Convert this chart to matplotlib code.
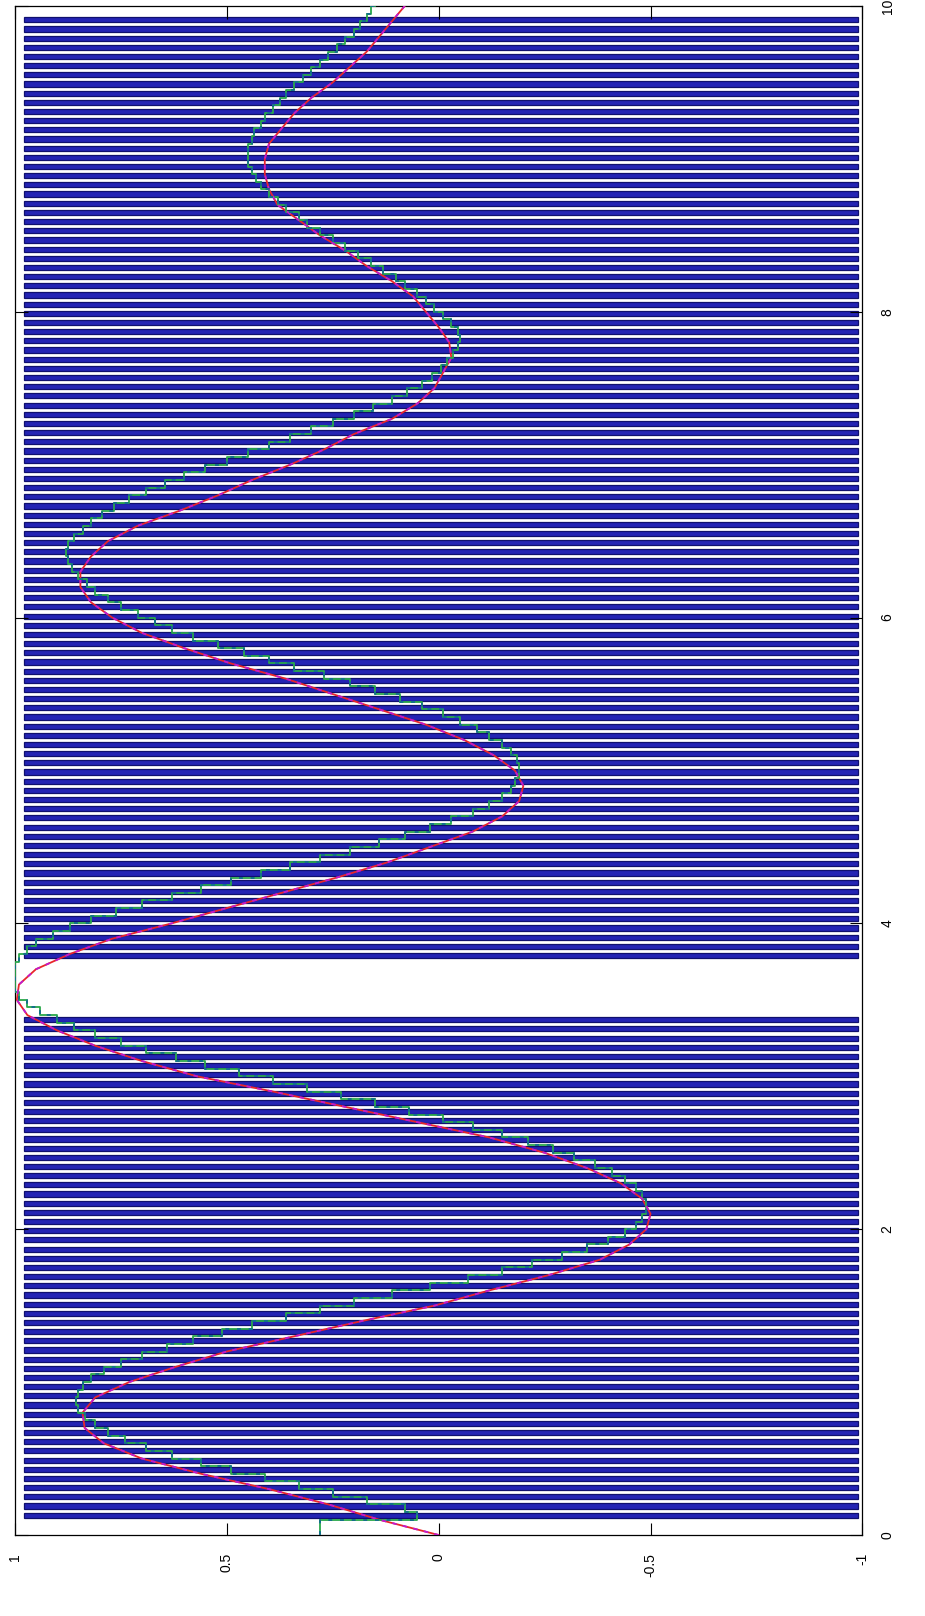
import numpy as np
import matplotlib
matplotlib.use("Agg")
import matplotlib.pyplot as plt

# time grid of the smooth reference response (s)
t_ref = np.round(np.arange(0.0, 10.0001, 0.1), 2)

# reference response (smooth)
reference = [
    0.00, 0.14, 0.26, 0.40, 0.56, 0.70, 0.79, 0.835, 0.84, 0.81,
    0.73, 0.62, 0.50, 0.34, 0.18, 0.01, -0.12, -0.26, -0.38, -0.45,
    -0.49, -0.50, -0.48, -0.43, -0.35, -0.25, -0.12, 0.05, 0.22, 0.39,
    0.57, 0.70, 0.81, 0.90, 0.97, 0.995, 0.99, 0.95, 0.87, 0.77,
    0.63, 0.50, 0.37, 0.24, 0.12, 0.02, -0.08, -0.15, -0.19, -0.20,
    -0.18, -0.13, -0.06, 0.03, 0.14, 0.25, 0.36, 0.49, 0.60, 0.70,
    0.77, 0.82, 0.845, 0.845, 0.82, 0.78, 0.71, 0.61, 0.52, 0.44,
    0.35, 0.27, 0.20, 0.11, 0.05, 0.01, -0.01, -0.03, -0.025, 0.00,
    0.03, 0.06, 0.11, 0.17, 0.22, 0.28, 0.33, 0.38, 0.40, 0.41,
    0.41, 0.40, 0.37, 0.34, 0.30, 0.25, 0.21, 0.17, 0.14, 0.11,
    0.08,
]

# sample instants of the held estimate (s)
t_est = np.round(np.arange(0.0, 10.0001, 0.05), 2)

# sampled (held) estimate
estimate = [
    0.28, 0.28, 0.05, 0.08, 0.17, 0.25, 0.33, 0.41, 0.49, 0.56,
    0.63, 0.69, 0.74, 0.78, 0.81, 0.835, 0.85, 0.855, 0.85, 0.84,
    0.82, 0.79, 0.75, 0.70, 0.64, 0.58, 0.51, 0.44, 0.36, 0.28,
    0.20, 0.11, 0.02, -0.07, -0.15, -0.22, -0.29, -0.35, -0.40, -0.44,
    -0.465, -0.48, -0.49, -0.49, -0.48, -0.465, -0.44, -0.41, -0.37, -0.32,
    -0.27, -0.21, -0.15, -0.08, -0.01, 0.07, 0.15, 0.23, 0.31, 0.39,
    0.47, 0.55, 0.62, 0.69, 0.75, 0.81, 0.86, 0.90, 0.94, 0.97,
    0.99, 1.00, 1.00, 1.00, 1.00, 0.99, 0.97, 0.95, 0.91, 0.87,
    0.82, 0.76, 0.70, 0.63, 0.56, 0.49, 0.42, 0.35, 0.28, 0.21,
    0.14, 0.08, 0.02, -0.03, -0.08, -0.12, -0.15, -0.17, -0.18, -0.19,
    -0.19, -0.185, -0.17, -0.15, -0.12, -0.09, -0.05, -0.01, 0.04, 0.09,
    0.15, 0.21, 0.27, 0.34, 0.40, 0.46, 0.52, 0.58, 0.63, 0.67,
    0.71, 0.75, 0.78, 0.81, 0.83, 0.85, 0.865, 0.875, 0.88, 0.875,
    0.86, 0.84, 0.82, 0.795, 0.765, 0.73, 0.69, 0.645, 0.60, 0.55,
    0.50, 0.45, 0.40, 0.35, 0.30, 0.25, 0.20, 0.155, 0.11, 0.075,
    0.04, 0.015, -0.005, -0.02, -0.035, -0.045, -0.05, -0.045, -0.03, -0.01,
    0.01, 0.03, 0.05, 0.08, 0.10, 0.13, 0.16, 0.19, 0.22, 0.25,
    0.28, 0.31, 0.33, 0.36, 0.38, 0.40, 0.42, 0.43, 0.44, 0.45,
    0.45, 0.45, 0.44, 0.435, 0.42, 0.41, 0.39, 0.375, 0.36, 0.34,
    0.32, 0.30, 0.28, 0.26, 0.24, 0.22, 0.20, 0.185, 0.17, 0.16,
    0.15,
]

# event bars: sampling instants, with the interval where no events occur
bar_step = 0.06
bar_t = np.round(np.arange(0.13, 9.95, bar_step), 3)
gap_start, gap_end = 3.38, 3.78
bar_t = bar_t[(bar_t < gap_start) | (bar_t > gap_end)]
bar_low, bar_high = -0.99, 0.978

value_ticks = [1, 0.5, 0, -0.5, -1]
value_labels = ["1", "0.5", "0", "-0.5", "-1"]
time_ticks = [0, 2, 4, 6, 8, 10]
time_labels = ["0", "2", "4", "6", "8", "10"]

plt.rcParams["font.family"] = ["Liberation Sans", "DejaVu Sans"]

W, H = 925, 1616
fig = plt.figure(figsize=(W / 100, H / 100), dpi=100)
left, right, top, bottom = 14.7, 862.5, 6.0, 1535.0
ax = fig.add_axes([left / W, 1 - bottom / H, (right - left) / W, (bottom - top) / H])

# event bars (time runs upward, value runs right-to-left)
ax.barh(bar_t, width=bar_high - bar_low, left=bar_low, height=bar_step * 0.56,
        color="#2424b4", edgecolor="#10106e", linewidth=0.9, zorder=1)

# smooth reference: red solid with magenta dashes on top
ax.plot(reference, t_ref, color="#e8262a", lw=1.3, zorder=3)
ax.plot(reference, t_ref, color="#c01ad0", lw=1.3, ls=(0, (2.5, 3.5)), zorder=4)

# held estimate drawn as a staircase
st_t = np.repeat(t_est, 2)[1:]
st_v = np.repeat(np.asarray(estimate), 2)[:-1]
ax.plot(st_v, st_t, color="#2aa84a", lw=1.3, zorder=3)
ax.plot(st_v, st_t, color="#13708a", lw=1.4, ls=(0, (2, 4)), zorder=4)

ax.set_xlim(1, -1)
ax.set_ylim(0, 10)

ax.set_xticks(value_ticks)
ax.set_xticklabels(value_labels, rotation=90)
ax.set_yticks(time_ticks)
ax.set_yticklabels(time_labels, rotation=90, va="center")

ax.tick_params(axis="x", direction="in", length=9, width=0.8, top=True, bottom=True,
               labelbottom=True, labelsize=10, pad=13, colors="black")
ax.tick_params(axis="y", direction="in", length=9, width=0.8, left=True, right=True,
               labelleft=False, labelright=True, labelsize=10, pad=13, colors="black")
for s in ax.spines.values():
    s.set_linewidth(0.9)
    s.set_color("black")

fig.savefig("out.png", dpi=100, facecolor="white")
